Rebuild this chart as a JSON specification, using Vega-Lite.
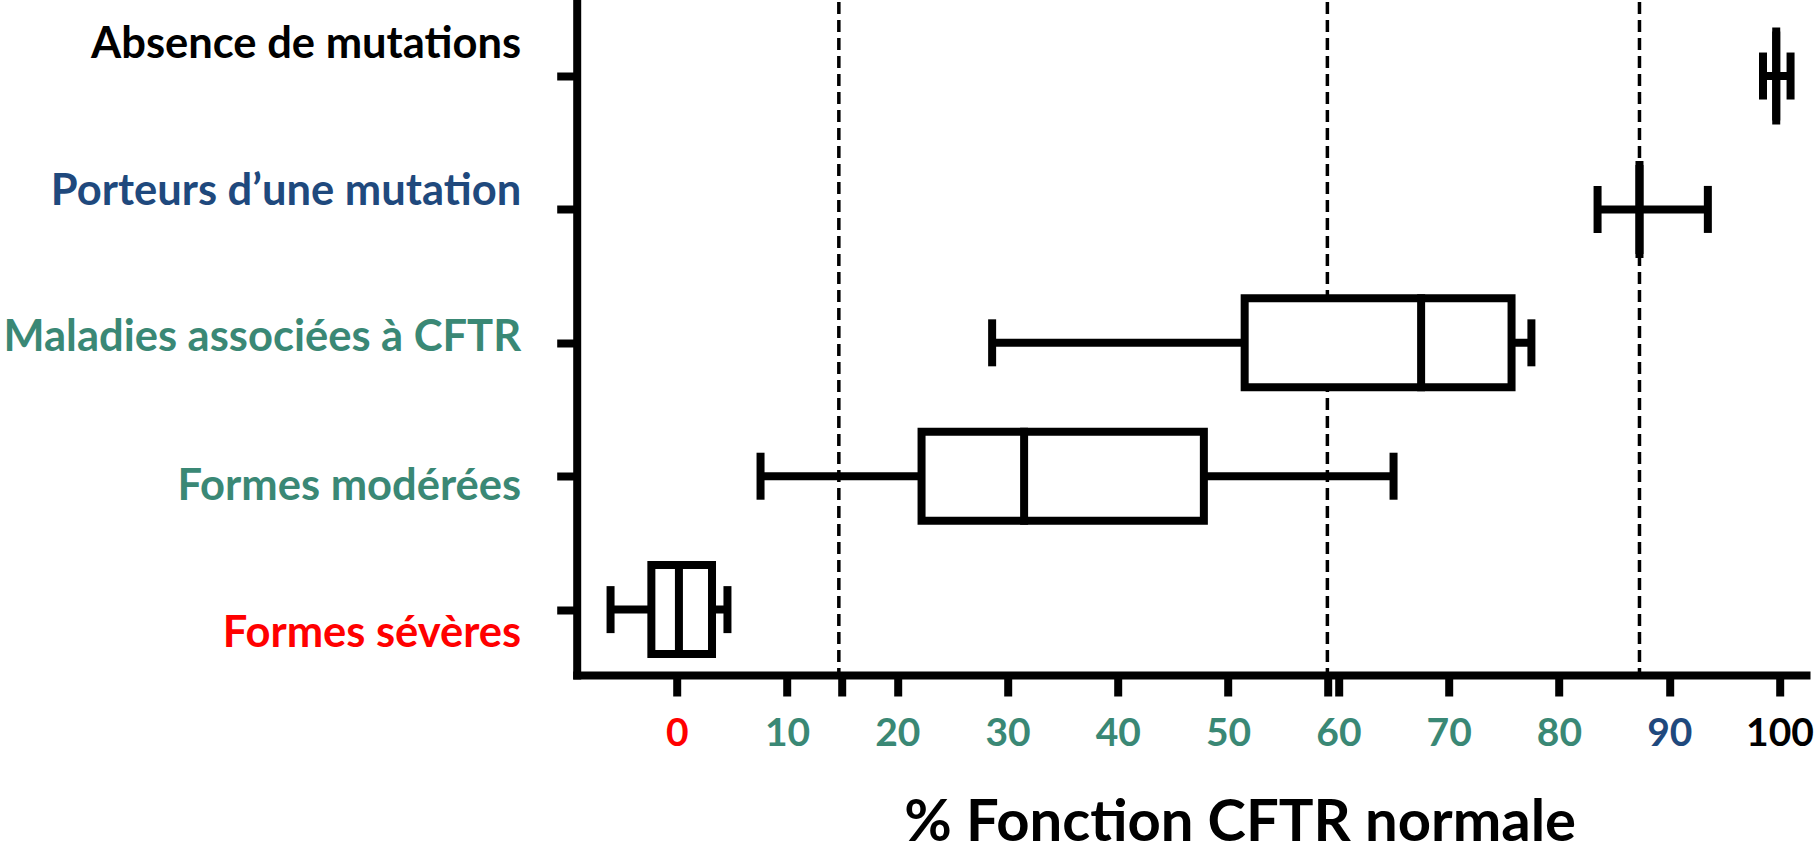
{
  "$schema": "https://vega.github.io/schema/vega-lite/v6.json",
  "autosize": {"type": "none"},
  "padding": {"left": 576.7, "top": 2, "right": 10, "bottom": 176},
  "width": 1229.3,
  "height": 673,
  "background": "white",
  "config": {"view": {"stroke": null}},
  "datasets": {
    "groups": [
      {"groupe": "Absence de mutations", "min": 98.5, "q1": 99.7, "median": 99.7, "q3": 99.7, "max": 101.0},
      {"groupe": "Porteurs d’une mutation", "min": 83.5, "q1": 87.3, "median": 87.3, "q3": 87.3, "max": 93.5},
      {"groupe": "Maladies associées à CFTR", "min": 28.6, "q1": 51.5, "median": 67.5, "q3": 75.7, "max": 77.5},
      {"groupe": "Formes modérées", "min": 7.6, "q1": 22.2, "median": 31.5, "q3": 47.8, "max": 65.0},
      {"groupe": "Formes sévères", "min": -6.0, "q1": -2.3, "median": 0.2, "q3": 3.2, "max": 4.6}
    ],
    "seuils": [{"v": 14.7}, {"v": 59}, {"v": 87.3}]
  },
  "encoding": {
    "y": {
      "field": "groupe",
      "type": "nominal",
      "sort": ["Absence de mutations", "Porteurs d’une mutation", "Maladies associées à CFTR", "Formes modérées", "Formes sévères"],
      "scale": {"type": "point", "padding": 0.5225, "align": 0.531},
      "axis": {
        "title": null,
        "domainColor": "black",
        "domainWidth": 8,
        "domainCap": "square",
        "tickColor": "black",
        "tickWidth": 8,
        "tickSize": 20,
        "labelFont": "Lato",
        "labelFontWeight": "bold",
        "labelFontSize": 43.5,
        "labelPadding": 36,
        "labelLimit": 1000,
        "labelColor": {"expr": "datum.value == 'Formes sévères' ? '#FF0000' : datum.value == 'Porteurs d’une mutation' ? '#1F497D' : datum.value == 'Absence de mutations' ? '#000000' : '#3A8875'"},
        "labelOffset": {"expr": "datum.value == 'Absence de mutations' ? -32 : datum.value == 'Porteurs d’une mutation' ? -18 : datum.value == 'Maladies associées à CFTR' ? -5 : datum.value == 'Formes modérées' ? 10 : 24"}
      }
    }
  },
  "layer": [
    {
      "data": {"name": "seuils"},
      "mark": {"type": "rule", "strokeDash": [12, 6], "strokeWidth": 3.5, "color": "black"},
      "encoding": {
        "x": {"field": "v", "type": "quantitative", "scale": {"domain": [-9.07, 102.4], "nice": false, "zero": false}},
        "y": null
      }
    },
    {
      "data": {"name": "groups"},
      "mark": {"type": "rule", "strokeWidth": 8, "color": "black"},
      "encoding": {
        "x": {"field": "min", "type": "quantitative"},
        "x2": {"field": "max"}
      }
    },
    {
      "data": {"name": "groups"},
      "mark": {"type": "bar", "size": 89, "fill": "white", "stroke": "black", "strokeWidth": 8},
      "encoding": {
        "x": {"field": "q1", "type": "quantitative"},
        "x2": {"field": "q3"}
      }
    },
    {
      "data": {"name": "groups"},
      "mark": {"type": "tick", "size": 97, "thickness": 8, "color": "black", "opacity": 1},
      "encoding": {"x": {"field": "median", "type": "quantitative"}}
    },
    {
      "data": {"name": "groups"},
      "mark": {"type": "tick", "size": 47, "thickness": 8, "color": "black", "opacity": 1},
      "encoding": {"x": {"field": "min", "type": "quantitative"}}
    },
    {
      "data": {"name": "groups"},
      "mark": {"type": "tick", "size": 47, "thickness": 8, "color": "black", "opacity": 1},
      "encoding": {
        "x": {
          "field": "max",
          "type": "quantitative",
          "axis": {
            "values": [0, 10, 15, 20, 30, 40, 50, 59, 60, 70, 80, 90, 100],
            "labelExpr": "datum.value == 15 || datum.value == 59 ? '' : datum.label",
            "grid": false,
            "domainColor": "black",
            "domainWidth": 8,
            "domainCap": "square",
            "tickColor": "black",
            "tickWidth": 8,
            "tickSize": 21,
            "labelFont": "Lato",
            "labelFontWeight": "bold",
            "labelFontSize": 39,
            "labelPadding": 18,
            "labelOverlap": false,
            "labelFlush": false,
            "labelColor": {"expr": "datum.value == 0 ? '#FF0000' : datum.value == 90 ? '#1F497D' : datum.value == 100 ? '#000000' : '#3A8875'"},
            "title": "% Fonction CFTR normale",
            "titleFont": "Lato",
            "titleFontWeight": "bold",
            "titleFontSize": 58,
            "titleColor": "black",
            "titleX": 663,
            "titleY": 165,
            "titleAlign": "center",
            "titleBaseline": "alphabetic"
          }
        }
      }
    }
  ]
}
